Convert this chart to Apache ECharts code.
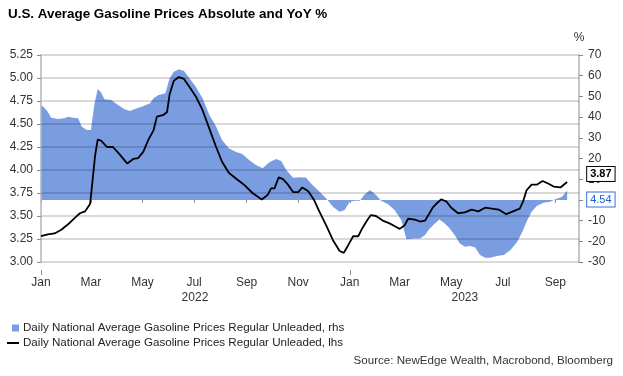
<!DOCTYPE html>
<html lang="en">
<head>
<meta charset="UTF-8">
<title>U.S. Average Gasoline Prices Absolute and YoY %</title>
<script src="https://cdn.jsdelivr.net/npm/echarts@6.0.0/dist/echarts.min.js"></script>
<style>
  html, body { margin: 0; padding: 0; background: #fff; }
  #chart { width: 623px; height: 376px; }
</style>
</head>
<body>
<div id="chart"></div>
<script>
// daily price, USD/gal (lhs)
var priceDates = [
  '2022-01-01','2022-01-09','2022-01-17','2022-01-25','2022-02-02','2022-02-10','2022-02-16','2022-02-22',
  '2022-02-28','2022-03-02','2022-03-06','2022-03-09','2022-03-13','2022-03-20','2022-03-27','2022-04-04',
  '2022-04-13','2022-04-20','2022-04-26','2022-05-02','2022-05-08','2022-05-14','2022-05-18','2022-05-26',
  '2022-05-30','2022-06-02','2022-06-07','2022-06-13','2022-06-19','2022-06-25','2022-07-03','2022-07-11',
  '2022-07-19','2022-07-27','2022-08-03','2022-08-11','2022-08-19','2022-08-29','2022-09-08','2022-09-19',
  '2022-09-26','2022-09-30','2022-10-04','2022-10-09','2022-10-14','2022-10-20','2022-10-26','2022-11-01',
  '2022-11-06','2022-11-13','2022-11-20','2022-11-26','2022-12-04','2022-12-12','2022-12-20','2022-12-25',
  '2022-12-30','2023-01-05','2023-01-11','2023-01-16','2023-01-22','2023-01-26','2023-02-01','2023-02-09',
  '2023-02-17','2023-02-25','2023-03-01','2023-03-07','2023-03-11','2023-03-19','2023-03-25','2023-03-31',
  '2023-04-04','2023-04-09','2023-04-13','2023-04-19','2023-04-25','2023-05-01','2023-05-09','2023-05-17',
  '2023-05-25','2023-06-02','2023-06-10','2023-06-18','2023-06-26','2023-07-05','2023-07-13','2023-07-21',
  '2023-07-25','2023-07-29','2023-08-04','2023-08-10','2023-08-17','2023-08-24','2023-08-30','2023-09-07',
  '2023-09-15'
];
var priceValues = [
  3.28, 3.30, 3.31, 3.35, 3.41, 3.48, 3.53, 3.55,
  3.63, 3.80, 4.16, 4.33, 4.32, 4.25, 4.25, 4.17,
  4.07, 4.12, 4.13, 4.20, 4.33, 4.43, 4.58, 4.60,
  4.63, 4.82, 4.97, 5.01, 4.99, 4.91, 4.80, 4.65,
  4.45, 4.25, 4.09, 3.97, 3.91, 3.84, 3.75, 3.68,
  3.73, 3.80, 3.80, 3.92, 3.90, 3.84, 3.76, 3.76,
  3.81, 3.77, 3.67, 3.55, 3.40, 3.24, 3.12, 3.10,
  3.18, 3.28, 3.28, 3.37, 3.46, 3.51, 3.50, 3.45,
  3.42, 3.38, 3.36, 3.40, 3.47, 3.46, 3.44, 3.45,
  3.51, 3.59, 3.63, 3.68, 3.66, 3.59, 3.53, 3.54,
  3.57, 3.55, 3.59, 3.58, 3.57, 3.52, 3.55, 3.58,
  3.66, 3.78, 3.84, 3.84, 3.88, 3.85, 3.82, 3.81,
  3.87
];

// year-over-year change, % (rhs)
var yoyDates = [
  '2022-01-01','2022-01-05','2022-01-09','2022-01-13','2022-01-21','2022-01-29','2022-02-02','2022-02-08',
  '2022-02-14','2022-02-18','2022-02-24','2022-03-01','2022-03-05','2022-03-09','2022-03-13','2022-03-17',
  '2022-03-25','2022-04-02','2022-04-10','2022-04-16','2022-04-22','2022-04-30','2022-05-10','2022-05-14',
  '2022-05-20','2022-05-28','2022-06-02','2022-06-07','2022-06-13','2022-06-19','2022-06-25','2022-07-03',
  '2022-07-11','2022-07-19','2022-07-27','2022-08-03','2022-08-11','2022-08-19','2022-08-27','2022-09-04',
  '2022-09-12','2022-09-20','2022-09-28','2022-10-06','2022-10-12','2022-10-18','2022-10-26','2022-11-02',
  '2022-11-10','2022-11-18','2022-11-26','2022-12-04','2022-12-12','2022-12-20','2022-12-26','2023-01-01',
  '2023-01-07','2023-01-13','2023-01-18','2023-01-25','2023-02-01','2023-02-07','2023-02-15','2023-02-23',
  '2023-03-03','2023-03-09','2023-03-17','2023-03-25','2023-03-31','2023-04-05','2023-04-11','2023-04-17',
  '2023-04-23','2023-04-29','2023-05-05','2023-05-11','2023-05-17','2023-05-23','2023-05-29','2023-06-04',
  '2023-06-10','2023-06-16','2023-06-24','2023-07-02','2023-07-10','2023-07-18','2023-07-24','2023-07-30',
  '2023-08-04','2023-08-10','2023-08-18','2023-08-26','2023-09-01','2023-09-09','2023-09-15'
];
var yoyValues = [
  45.8, 44.5, 42.6, 39.7, 39.1, 39.4, 40.2, 39.7,
  39.4, 35.4, 33.8, 33.8, 45.8, 53.6, 52.0, 48.6,
  48.3, 45.8, 43.8, 42.9, 43.9, 45.0, 46.7, 49.1,
  50.7, 51.5, 58.7, 61.9, 63.1, 62.3, 59.0, 54.7,
  49.1, 41.0, 35.4, 28.9, 24.9, 23.3, 22.2, 19.3,
  16.9, 15.3, 18.2, 19.8, 18.8, 14.4, 10.7, 11.0,
  10.8, 7.2, 4.0, 0.8, -3.3, -5.7, -4.9, -0.9,
  -0.4, -0.4, 2.4, 4.8, 2.4, -0.4, -2.0, -4.9,
  -9.7, -19.0, -18.6, -18.6, -17.0, -14.0, -11.6, -9.5,
  -11.3, -13.7, -17.0, -21.0, -22.6, -22.3, -22.9, -26.6,
  -27.9, -27.9, -27.1, -26.6, -24.2, -20.2, -15.4, -9.7,
  -5.7, -2.9, -1.4, -0.9, 0.3, 1.5, 4.54
];

var leftTicks = { min: 3.0, max: 5.25, step: 0.25 };
var rightTicks = { min: -30, max: 70, step: 10 };
var monthNames = ['Jan','Feb','Mar','Apr','May','Jun','Jul','Aug','Sep','Oct','Nov','Dec'];
var yearLabelDays = ['2022-07-02', '2023-05-17'];

var nameRhs = 'Daily National Average Gasoline Prices Regular Unleaded, rhs';
var nameLhs = 'Daily National Average Gasoline Prices Regular Unleaded, lhs';

// one category per calendar day over the axis span
var days = [];
for (var i = 0; i < 637; i++) {
  days.push(new Date(Date.UTC(2022, 0, 1 + i)).toISOString().slice(0, 10));
}

function isOddMonthStart(v) {
  var m = +v.slice(5, 7);
  return v.slice(8) === '01' && m % 2 === 1;
}

var font = 'Liberation Sans, Arial, sans-serif';
var labelColor = '#333';
var axisGray = '#b4b4b4';

var chart = echarts.init(document.getElementById('chart'));
chart.setOption({
  animation: false,
  textStyle: { fontFamily: font },
  title: [{
    text: 'U.S. Average Gasoline Prices Absolute and YoY %',
    left: 3, top: 3,
    textStyle: { fontSize: 13.4, fontWeight: 'bold', color: '#000', fontFamily: font }
  }, {
    text: 'Source: NewEdge Wealth, Macrobond, Bloomberg',
    right: 5, top: 350,
    textStyle: { fontSize: 11.6, fontWeight: 'normal', color: '#333', fontFamily: font }
  }],
  legend: [{
    data: [{ name: nameRhs, icon: 'rect' }],
    left: 7, top: 317, itemWidth: 7, itemHeight: 7,
    textStyle: { fontSize: 11.6, color: '#222', fontFamily: font, padding: [0, 0, 0, -1] }
  }, {
    data: [{ name: nameLhs, icon: 'rect' }],
    left: 2, top: 332, itemWidth: 12, itemHeight: 2,
    textStyle: { fontSize: 11.6, color: '#222', fontFamily: font, padding: [0, 0, 0, -1] }
  }],
  grid: { left: 41, right: 44, top: 55, bottom: 114 },
  xAxis: [{
    type: 'category',
    data: days,
    boundaryGap: false,
    position: 'bottom',
    offset: 8,
    axisLine: { show: false },
    axisTick: { show: true, length: 3, interval: function (i, v) { return isOddMonthStart(v); },
      lineStyle: { color: '#888' } },
    axisLabel: {
      interval: function (i, v) { return isOddMonthStart(v); },
      formatter: function (v) { return monthNames[+v.slice(5, 7) - 1]; },
      color: labelColor, fontSize: 12, margin: 7
    },
    splitLine: { show: false }
  }, {
    type: 'category',
    data: days,
    boundaryGap: false,
    position: 'bottom',
    offset: 8,
    axisLine: { show: false },
    axisTick: { show: true, length: 5, interval: function (i, v) { return v.slice(5) === '01-01'; },
      lineStyle: { color: '#888' } },
    axisLabel: {
      interval: function (i, v) { return yearLabelDays.indexOf(v) >= 0; },
      formatter: function (v) { return v.slice(0, 4); },
      color: labelColor, fontSize: 12, margin: 22
    },
    splitLine: { show: false }
  }],
  yAxis: [{
    type: 'value',
    position: 'left',
    z: 3,
    min: leftTicks.min, max: leftTicks.max, interval: leftTicks.step,
    axisLine: { show: true, lineStyle: { color: axisGray, width: 1.5 } },
    axisTick: { show: true, length: 4, lineStyle: { color: '#888' } },
    axisLabel: { color: labelColor, fontSize: 12, margin: 8,
      formatter: function (v) { return v.toFixed(2); } },
    splitLine: { show: true, lineStyle: { color: 'rgba(0,0,0,0.15)', width: 2 } }
  }, {
    type: 'value',
    position: 'right',
    z: 0,
    name: '%',
    nameLocation: 'end',
    nameGap: 11,
    nameTextStyle: { color: labelColor, fontSize: 12 },
    min: rightTicks.min, max: rightTicks.max, interval: rightTicks.step,
    axisLine: { show: true, lineStyle: { color: axisGray, width: 1.5 } },
    axisTick: { show: true, length: 4, lineStyle: { color: '#888' } },
    axisLabel: { color: labelColor, fontSize: 12, margin: 9 },
    splitLine: { show: false }
  }],
  series: [{
    name: nameRhs,
    type: 'line',
    xAxisIndex: 0,
    yAxisIndex: 1,
    z: 2,
    data: yoyDates.map(function (d, i) { return [d, yoyValues[i]]; }),
    showSymbol: false,
    color: '#7a9de2',
    lineStyle: { width: 0 },
    areaStyle: { color: '#7a9de2', opacity: 1 },
    endLabel: {
      show: true,
      formatter: function (p) { return p.value[1].toFixed(2); },
      distance: 20,
      offset: [0, 9],
      color: '#1f5fd6',
      fontSize: 11,
      backgroundColor: '#fff',
      borderColor: '#3b6fd8',
      borderWidth: 1,
      padding: [2, 3, 1, 3]
    }
  }, {
    name: nameLhs,
    type: 'line',
    xAxisIndex: 0,
    yAxisIndex: 0,
    z: 5,
    data: priceDates.map(function (d, i) { return [d, priceValues[i]]; }),
    showSymbol: false,
    color: '#000',
    lineStyle: { color: '#000', width: 1.8 },
    endLabel: {
      show: true,
      formatter: function (p) { return p.value[1].toFixed(2); },
      distance: 20,
      offset: [0, -8],
      color: '#000',
      fontSize: 11,
      fontWeight: 'bold',
      backgroundColor: '#fff',
      borderColor: '#000',
      borderWidth: 1,
      padding: [2, 3, 1, 3]
    }
  }]
});
</script>
</body>
</html>
